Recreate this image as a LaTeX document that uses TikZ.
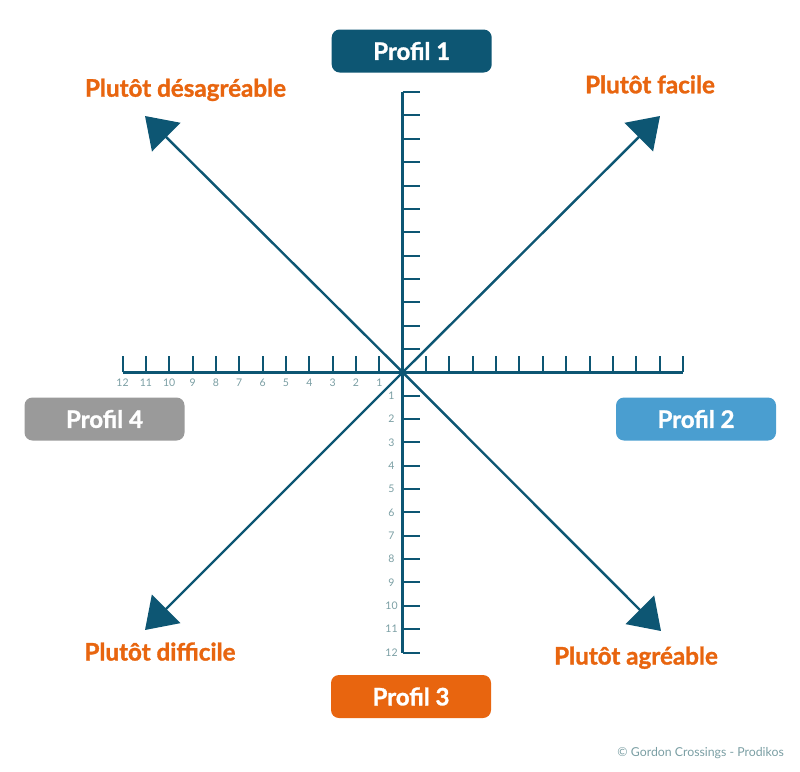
\documentclass[tikz,border=0pt]{standalone}
\usepackage{fontspec}
\setmainfont{Lato}
\newfontfamily\heavy{Lato}[BoldFeatures={FakeBold=1.3}]
\usetikzlibrary{arrows.meta,calc}
\definecolor{teal}{HTML}{0D5673}
\definecolor{orng}{HTML}{E8650F}
\definecolor{lblue}{HTML}{4A9ED0}
\definecolor{gry}{HTML}{9A9A9A}
\definecolor{lbl}{HTML}{7A9EA3}
\tikzset{
  axis/.style={draw=teal, line width=2.6pt},
  tickmark/.style={draw=teal, line width=2pt},
  diag/.style={draw=teal, line width=2.4pt, -{Triangle[length=30pt,width=40pt]}},
  profil/.style={rounded corners=8pt, minimum width=160pt, minimum height=43pt, inner sep=0pt,
    text=white, font=\fontsize{24}{27}\heavy\bfseries},
  side/.style={text=orng, font=\fontsize{24.2}{27}\heavy\bfseries, anchor=base, inner sep=0pt},
  ticklbl/.style={text=lbl, font=\fontsize{10.5}{12}\selectfont, inner sep=0pt},
}
\begin{document}
\begin{tikzpicture}[x=1pt,y=-1pt]
\useasboundingbox (0,0) rectangle (800,771);
\def\d{23.35}
\coordinate (C) at (402.7,372.3);
\coordinate (L) at (122.5,372.3);
\coordinate (R) at (683,372.3);
\coordinate (T) at (402.7,92);
\coordinate (B) at (402.7,652.5);
\coordinate (UL) at (145,116);
\coordinate (UR) at (660,116);
\coordinate (DL) at (145,630);
\coordinate (DR) at (661,631);
% axes
\draw[axis] (L) -- (R);
\draw[axis] (T) -- (B);
% ticks
\foreach \k in {1,...,12}{
  \draw[tickmark] ($(C)+(-\k*\d,0)$) -- ++(0,-16);
  \draw[tickmark] ($(C)+(\k*\d,0)$) -- ++(0,-16);
  \draw[tickmark] ($(C)+(0,-\k*\d)$) -- ++(17,0);
  \draw[tickmark] ($(C)+(0,\k*\d)$) -- ++(17,0);
  \node[ticklbl] (hl\k) at ($(C)+(-\k*\d,10.7)$) {\k};
  \node[ticklbl] (vl\k) at ($(C)+(-11.2,\k*\d)$) {\k};
}
% diagonals
\draw[diag] (C) -- (UL);
\draw[diag] (C) -- (UR);
\draw[diag] (C) -- (DL);
\draw[diag] (C) -- (DR);
% profile boxes
\node[profil, fill=teal] (p1) at (411.7,51) {Profil 1};
\node[profil, fill=lblue] (p2) at (696,419) {Profil 2};
\node[profil, fill=orng] (p3) at (411,696.5) {Profil 3};
\node[profil, fill=gry] (p4) at (104.5,419) {Profil 4};
% side labels
\node[side] (sul) at (185.5,96.7) {Plutôt désagréable};
\node[side] (sur) at (650,93.3) {Plutôt facile};
\node[side] (sdl) at (160,660.5) {Plutôt difficile};
\node[side] (sdr) at (636,664.5) {Plutôt agréable};
% credit
\node[text=lbl, font=\fontsize{12.3}{14}\selectfont, anchor=base east, inner sep=0pt] (credit) at (784,756.5) {© Gordon Crossings - Prodikos};
\end{tikzpicture}
\end{document}
